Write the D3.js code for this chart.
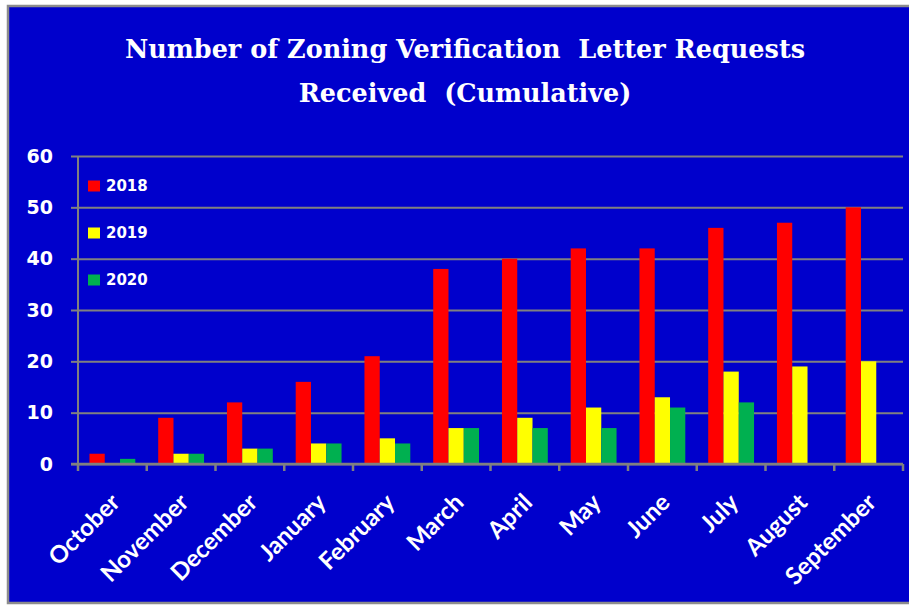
<!DOCTYPE html>
<html>
<head>
<meta charset="utf-8">
<script src="https://cdn.jsdelivr.net/npm/d3@7"></script>
<style>
  html, body { margin: 0; padding: 0; background: #ffffff; }
  svg { display: block; }
  text { white-space: pre; }
</style>
</head>
<body>
<svg id="chart" width="909" height="605"></svg>
<script>
const months = ["October","November","December","January","February","March","April","May","June","July","August","September"];
const seriesNames = ["2018","2019","2020"];
const values2018 = [2, 9, 12, 16, 21, 38, 40, 42, 42, 46, 47, 50];
const values2019 = [0, 2, 3, 4, 5, 7, 9, 11, 13, 18, 19, 20];
const values2020 = [1, 2, 3, 4, 4, 7, 7, 7, 11, 12, null, null];
const yTicks = [0, 10, 20, 30, 40, 50, 60];
const titleLines = ["Number of Zoning Verification  Letter Requests", "Received  (Cumulative)"];
const colors = ["#FF0000", "#FFFF00", "#00B050"];

(function () {
const svg = d3.select("#chart");
const W = 909, H = 605;
const bg = "#0000CC";
const grid = "#808080";

// frame
svg.append("rect").attr("x", 8).attr("y", 6).attr("width", W + 10).attr("height", H - 8)
  .attr("fill", bg).attr("stroke", "#8c8c8c").attr("stroke-width", 2.5);

const pLeft = 78, pRight = 903, pTop = 156, pBottom = 464;

const x0 = d3.scaleBand().domain(months).range([pLeft, pRight]).paddingInner(0).paddingOuter(0);
const x1 = d3.scaleBand().domain(seriesNames).range([0, x0.bandwidth()]).paddingInner(0).paddingOuter(0.75);
const y = d3.scaleLinear().domain([0, 60]).range([pBottom, pTop]);

// title
const tFont = "DejaVu Serif, serif";
svg.append("text").attr("x", 465).attr("y", 58).attr("text-anchor", "middle")
  .attr("font-family", tFont).attr("font-weight", "bold").attr("font-size", 25.5)
  .attr("fill", "#fff").text(titleLines[0]);
svg.append("text").attr("x", 465).attr("y", 102).attr("text-anchor", "middle")
  .attr("font-family", tFont).attr("font-weight", "bold").attr("font-size", 25.5)
  .attr("fill", "#fff").text(titleLines[1]);

// gridlines
const yAxis = d3.axisLeft(y).tickValues(yTicks).tickSize(-(pRight - pLeft)).tickPadding(25).tickFormat(d3.format("d"));
const gy = svg.append("g").attr("transform", `translate(${pLeft},0)`).call(yAxis);
gy.select(".domain").remove();
gy.selectAll(".tick line").attr("stroke", grid).attr("stroke-width", 2);
gy.selectAll(".tick").append("line").attr("x1", -7).attr("x2", 0).attr("stroke", grid).attr("stroke-width", 2);
gy.selectAll(".tick text").attr("fill", "#fff").attr("font-family", "DejaVu Sans, sans-serif")
  .attr("font-weight", "bold").attr("font-size", 19);

// bars
const data = months.map((m, i) => ({ month: m, vals: [values2018[i], values2019[i], values2020[i]] }));
const groups = svg.append("g").selectAll("g").data(data).join("g")
  .attr("transform", d => `translate(${x0(d.month)},0)`);
groups.selectAll("rect").data(d => d.vals.map((v, j) => ({ s: seriesNames[j], v, j })).filter(e => e.v !== null && e.v > 0))
  .join("rect")
  .attr("x", e => x1(e.s)).attr("width", x1.bandwidth())
  .attr("y", e => y(e.v)).attr("height", e => y(0) - y(e.v))
  .attr("fill", e => colors[e.j]);

// y axis line
svg.append("line").attr("x1", pLeft).attr("x2", pLeft).attr("y1", pTop).attr("y2", pBottom)
  .attr("stroke", grid).attr("stroke-width", 2);
// x axis
const xAxis = d3.axisBottom(x0).tickSize(0).tickFormat("");
const gx = svg.append("g").attr("transform", `translate(0,${pBottom})`).call(xAxis);
gx.select(".domain").attr("stroke", grid).attr("stroke-width", 2.5).attr("d", `M${pLeft - 7},0H${pRight}`);
const bounds = months.map(m => x0(m)).concat([pRight]);
gx.selectAll(".bnd").data(bounds).join("line").attr("class", "bnd")
  .attr("x1", d => d).attr("x2", d => d).attr("y1", 0).attr("y2", 7)
  .attr("stroke", grid).attr("stroke-width", 2.5);
gx.selectAll(".lbl").data(months).join("text").attr("class", "lbl")
  .attr("transform", d => `translate(${x0(d) + x0.bandwidth() / 2 + 3},${34}) rotate(-45)`)
  .attr("text-anchor", "end").attr("dy", "0.35em")
  .attr("fill", "#fff").attr("font-family", "Lato, sans-serif").attr("font-weight", "bold").attr("font-size", 24)
  .text(d => d);

// legend
const legend = svg.append("g").selectAll("g").data(seriesNames).join("g")
  .attr("transform", (d, i) => `translate(88,${186 + i * 47})`);
legend.append("rect").attr("x", 0).attr("y", -5.5).attr("width", 12).attr("height", 11)
  .attr("fill", (d, i) => colors[i]);
legend.append("text").attr("x", 18).attr("y", 0).attr("dy", "0.36em")
  .attr("fill", "#fff").attr("font-family", "DejaVu Sans, sans-serif").attr("font-weight", "bold").attr("font-size", 15)
  .text(d => d);
})();
</script>
</body>
</html>
